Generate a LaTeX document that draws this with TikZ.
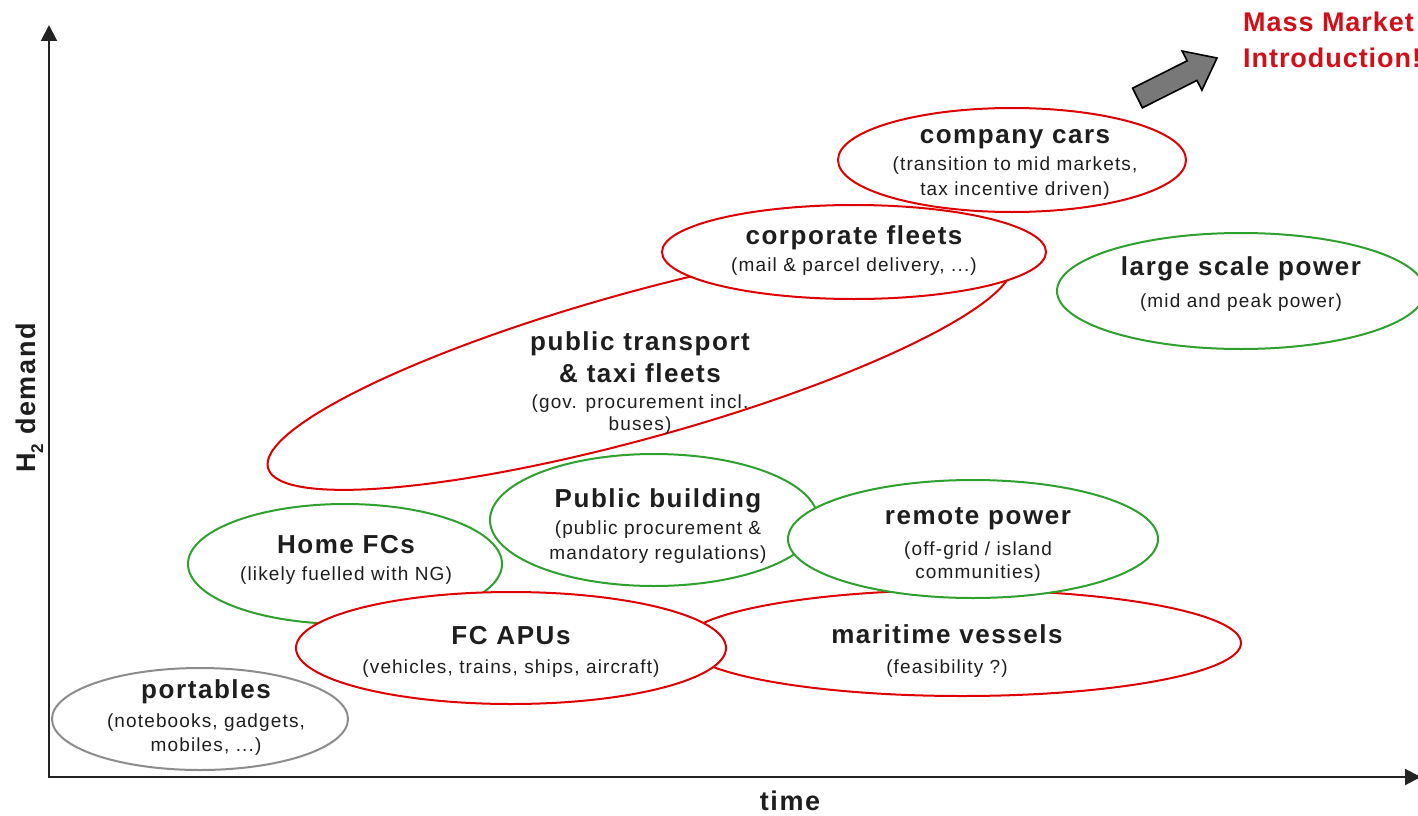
\documentclass[tikz,border=0pt]{standalone}
\usepackage{fontspec}
\setmainfont{Liberation Sans}
\newfontfamily\wideface{Liberation Sans}[LetterSpace=6]
\newfontfamily\subface{Liberation Sans}[LetterSpace=6]
\newfontfamily\mmface{Liberation Sans}[LetterSpace=3.5]
\usetikzlibrary{shapes.geometric,arrows.meta}
\definecolor{ellred}{RGB}{222,0,0}
\definecolor{ellgreen}{RGB}{45,160,45}
\definecolor{ellgray}{RGB}{140,140,140}
\definecolor{mmred}{RGB}{210,15,25}
\definecolor{txt}{RGB}{30,30,30}
\definecolor{axisc}{RGB}{35,35,35}
\definecolor{arrgray}{RGB}{120,120,120}
\begin{document}
\begin{tikzpicture}[x=1pt,y=-1pt,
  ell/.style={ellipse, line width=2pt, fill=white, inner sep=0pt},
  redell/.style={ell, draw=ellred},
  greenell/.style={ell, draw=ellgreen},
  grayell/.style={ell, draw=ellgray},
  ttl/.style={anchor=base, text=txt, inner sep=0pt, font=\wideface\bfseries\fontsize{26}{30}\selectfont},
  sub/.style={anchor=base, text=txt, inner sep=0pt, font=\subface\fontsize{19}{23}\selectfont},
  axlabel/.style={anchor=base, text=txt, inner sep=0pt, font=\wideface\bfseries\fontsize{27}{30}\selectfont},
  mm/.style={anchor=base west, text=mmred, inner sep=0pt, font=\mmface\bfseries\fontsize{27}{32}\selectfont},
  axis/.style={line width=2pt, draw=axisc, -{Triangle[width=16pt,length=16pt]}}]
\useasboundingbox (0,0) rectangle (1418,816);

% ellipses (drawing order matters: later ones cover earlier ones)
\node[redell, minimum width=772pt, minimum height=146pt, rotate=15.5] (pt) at (640,365) {};
\node[redell, minimum width=558pt, minimum height=106pt] (mv) at (962,643) {};
\node[grayell, minimum width=296pt, minimum height=102pt] (po) at (200,719) {};
\node[greenell, minimum width=314pt, minimum height=120pt] (hf) at (345,564) {};
\node[greenell, minimum width=368pt, minimum height=116pt] (ls) at (1241,291) {};
\node[redell, minimum width=384pt, minimum height=94pt] (cf) at (854,252) {};
\node[redell, minimum width=348pt, minimum height=104pt] (cc) at (1012,160) {};
\node[greenell, minimum width=328pt, minimum height=132pt] (pb) at (654,520) {};
\node[greenell, minimum width=370pt, minimum height=118pt] (rp) at (973,539) {};
\node[redell, minimum width=430pt, minimum height=112pt] (fa) at (511,648) {};

% texts
\node[ttl] (cc1) at (1015,143) {company cars};
\node[sub] (cc2) at (1015,170) {(transition to mid markets,};
\node[sub] (cc3) at (1015,195) {tax incentive driven)};

\node[ttl] (cf1) at (854,244) {corporate fleets};
\node[sub] (cf2) at (854,271) {(mail \& parcel delivery, ...)};

\node[ttl] (ls1) at (1241,275) {large scale power};
\node[sub] (ls2) at (1241,307) {(mid and peak power)};

\node[ttl] (pt1) at (640,350) {public transport};
\node[ttl] (pt2) at (640,382) {\& taxi fleets};
\node[sub] (pt3) at (640,408) {(gov. procurement incl.};
\node[sub] (pt4) at (640,430) {buses)};

\node[ttl] (pb1) at (658,507) {Public building};
\node[sub] (pb2) at (658,534) {(public procurement \&};
\node[sub] (pb3) at (658,559) {mandatory regulations)};

\node[ttl] (rp1) at (978,524) {remote power};
\node[sub] (rp2) at (978,555) {(off-grid / island};
\node[sub] (rp3) at (978,578) {communities)};

\node[ttl] (hf1) at (346,553) {Home FCs};
\node[sub] (hf2) at (346,580) {(likely fuelled with NG)};

\node[ttl] (fa1) at (511,644) {FC APUs};
\node[sub] (fa2) at (511,673) {(vehicles, trains, ships, aircraft)};

\node[ttl] (mv1) at (947,643) {maritime vessels};
\node[sub] (mv2) at (947,673) {(feasibility ?)};

\node[ttl] (po1) at (206,698) {portables};
\node[sub] (po2) at (206,727) {(notebooks, gadgets,};
\node[sub] (po3) at (206,751) {mobiles, ...)};

% axes
\coordinate (O) at (49,777);
\coordinate (ytip) at (49,25);
\coordinate (xtip) at (1421,777);
\draw[axis] (O) -- (ytip);
\draw[axis] (48,777) -- (xtip);
\node[axlabel] (time) at (790,810) {time};
\node[axlabel, rotate=90] (h2) at (35,398) {H\raisebox{-0.3em}{\fontsize{17}{17}\selectfont 2} demand};

% mass market arrow and label
\draw[fill=arrgray, draw=black, line width=1.6pt, line join=miter]
  (1132.6,88.2) -- (1142.4,107.8) -- (1196.9,80.4) -- (1201.9,90.2)
  -- (1217,58) -- (1182.1,51) -- (1187.1,60.8) -- cycle;
\node[mm] (mm1) at (1243,32) {Mass Market};
\node[mm] (mm2) at (1243,67) {Introduction!};
\end{tikzpicture}
\end{document}
